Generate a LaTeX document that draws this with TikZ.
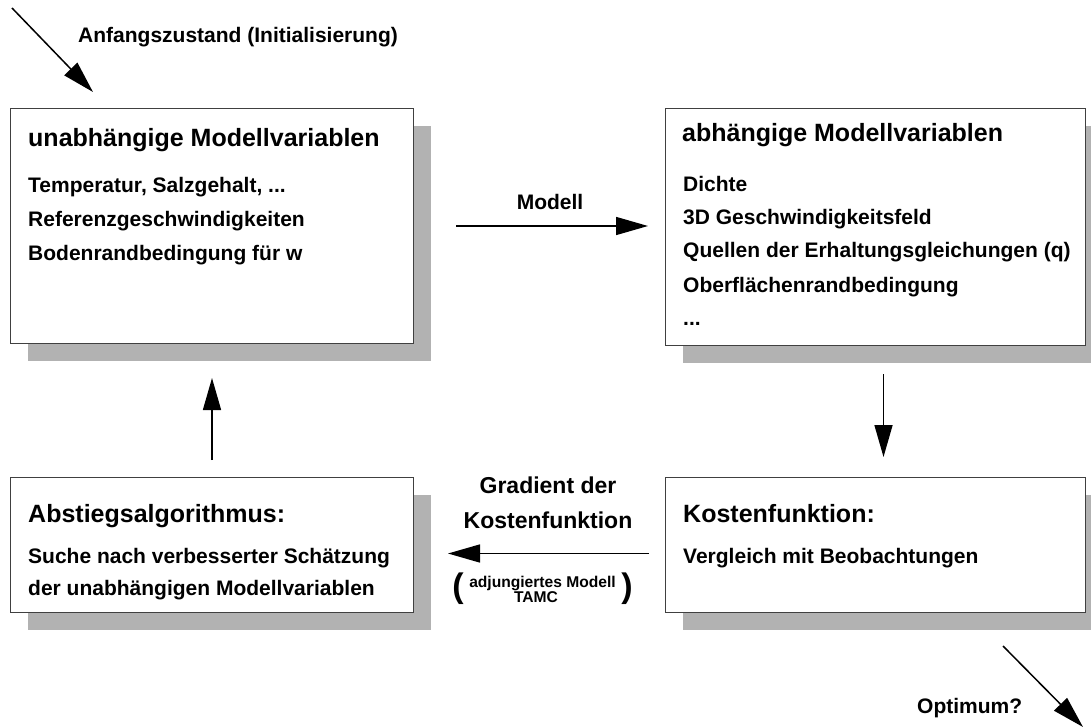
\documentclass[tikz,border=0pt]{standalone}
\usepackage{fontspec}
\setmainfont{Liberation Sans}
\usetikzlibrary{arrows.meta,shadows}
\tikzset{
  box/.style={draw=black!75, line width=1pt, fill=white, inner sep=0pt, anchor=north west,
    drop shadow={shadow xshift=17.5pt, shadow yshift=-17.5pt, fill=black!30, opacity=1}},
  ttl/.style={anchor=base west, inner sep=0pt, font=\fontsize{25}{30}\selectfont\bfseries},
  txt/.style={anchor=base west, inner sep=0pt, font=\fontsize{21}{25}\selectfont\bfseries},
  lbl/.style={anchor=base, inner sep=0pt, font=\fontsize{21}{25}\selectfont\bfseries},
  biglbl/.style={anchor=base, inner sep=0pt, font=\fontsize{23}{28}\selectfont\bfseries},
  smalllbl/.style={anchor=base, inner sep=0pt, font=\fontsize{15.6}{18}\selectfont\bfseries},
  paren/.style={inner sep=0pt, font=\fontsize{34}{40}\selectfont\bfseries},
  arr/.style={line width=1.5pt, -{Triangle[length=32pt,width=18pt]}},
}
\begin{document}
\begin{tikzpicture}[x=1pt,y=-1pt]
\useasboundingbox (0,0) rectangle (1091,727);

% boxes
\node[box, minimum width=403pt, minimum height=235pt] (b1) at (10,108) {};
\node[box, minimum width=420pt, minimum height=237pt] (b2) at (665,108) {};
\node[box, minimum width=403pt, minimum height=135pt] (b3) at (10,477) {};
\node[box, minimum width=420pt, minimum height=135pt] (b4) at (665,477) {};

% box 1 text
\node[ttl] (b1t) at (28,147) {unabhängige Modellvariablen};
\node[txt] (b1a) at (28,193) {Temperatur, Salzgehalt, ...};
\node[txt] (b1b) at (28,227) {Referenzgeschwindigkeiten};
\node[txt] (b1c) at (28,260) {Bodenrandbedingung für w};

% box 2 text
\node[ttl] (b2t) at (682,142) {abhängige Modellvariablen};
\node[txt] (b2a) at (683,192) {Dichte};
\node[txt] (b2b) at (683,225) {3D Geschwindigkeitsfeld};
\node[txt] (b2c) at (683,258) {Quellen der Erhaltungsgleichungen (q)};
\node[txt] (b2d) at (683,292) {Oberflächenrandbedingung};
\node[txt] (b2e) at (683,325) {...};

% box 3 text
\node[ttl] (b3t) at (28,522) {Abstiegsalgorithmus:};
\node[txt] (b3a) at (28,563) {Suche nach verbesserter Schätzung};
\node[txt] (b3b) at (28,595) {der unabhängigen Modellvariablen};

% box 4 text
\node[ttl] (b4t) at (683,522) {Kostenfunktion:};
\node[txt] (b4a) at (683,563) {Vergleich mit Beobachtungen};

% labels
\node[txt] (init) at (78,43) {Anfangszustand (Initialisierung)};
\node[lbl] (mod) at (550,210) {Modell};
\node[biglbl] (grad1) at (548,493) {Gradient der};
\node[biglbl] (grad2) at (548,528) {Kostenfunktion};
\node[smalllbl] (adj1) at (542.5,587) {adjungiertes Modell};
\node[smalllbl] (adj2) at (536,602) {TAMC};
\node[paren] (lp) at (458,589) {(};
\node[paren] (rp) at (627,589) {)};
\node[txt] (opt) at (917,713) {Optimum?};

% connectors
\draw[arr, shorten <=42pt, shorten >=17pt] (b1.east) -- (b1.east -| b2.west);
\draw[arr, shorten <=28pt, shorten >=20pt] ([xshift=8pt]b2.south) -- ([xshift=8pt]b2.south |- b4.north);
\draw[arr, shorten <=16pt, shorten >=34pt] ([yshift=-8.5pt]b4.west) -- ([yshift=-8.5pt]b4.west -| b3.east);
\draw[arr, shorten <=17pt, shorten >=34pt] (b3.north) -- (b3.north |- b1.south);

\coordinate (c0) at (12,8);
\draw[arr] (c0) -- ([xshift=83pt,yshift=16pt]b1.north west);
\coordinate (c1) at (1083,727);
\draw[arr] ([xshift=-83pt,yshift=-33pt]b4.south east) -- (c1);
\end{tikzpicture}
\end{document}
